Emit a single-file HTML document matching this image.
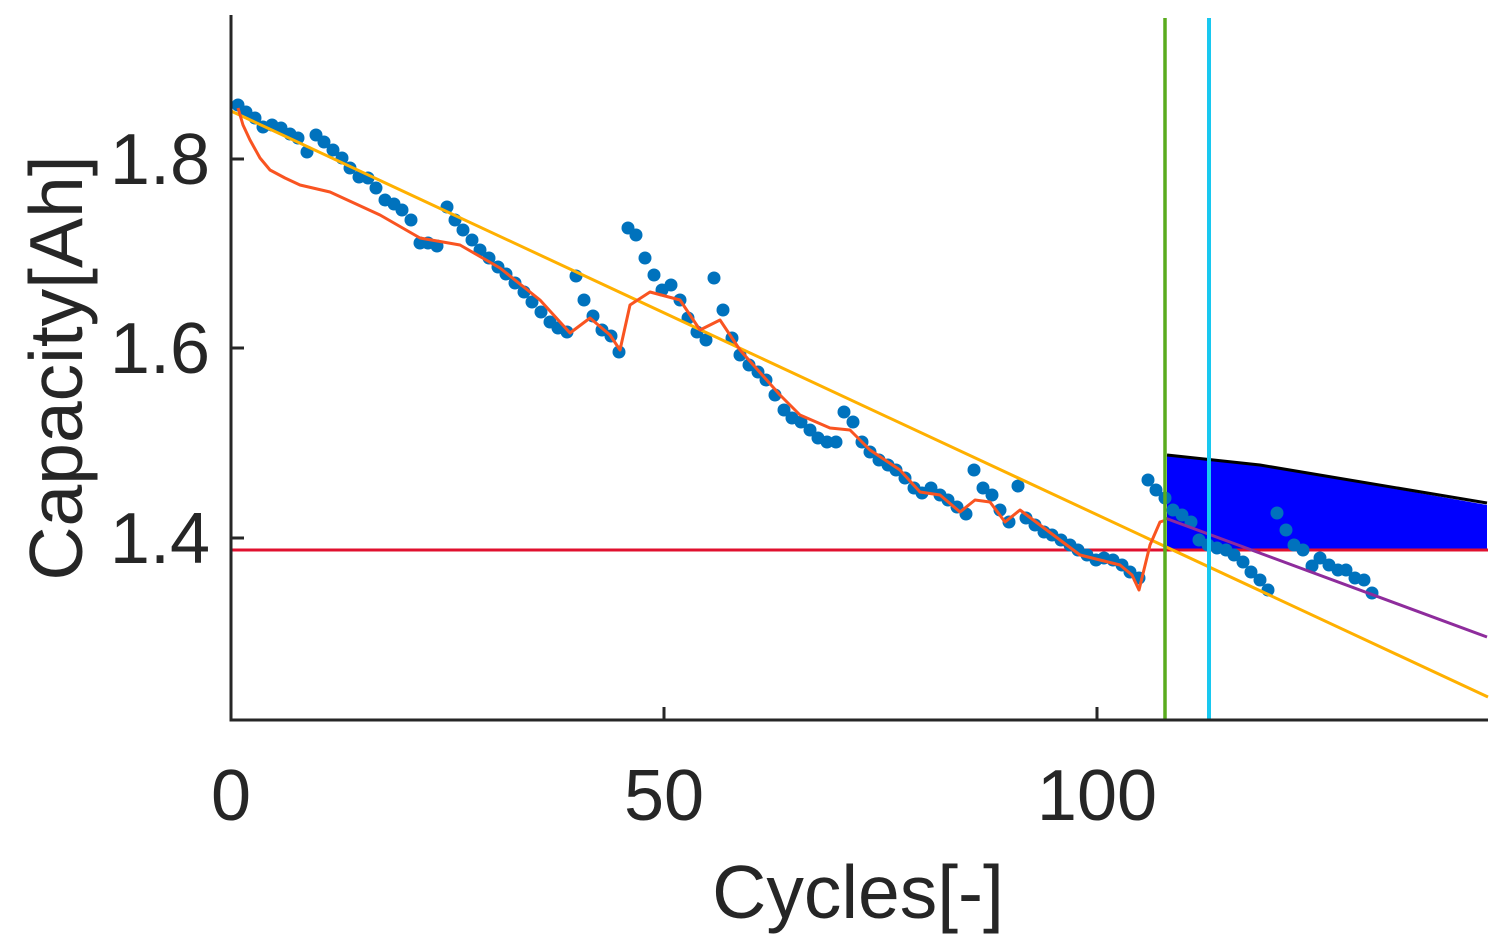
<!DOCTYPE html>
<html><head><style>body{margin:0;background:#fff}svg{display:block}text{font-family:"Liberation Sans",sans-serif;fill:#262626}</style></head>
<body>
<svg width="1505" height="951" viewBox="0 0 1505 951" xmlns="http://www.w3.org/2000/svg">
<polygon points="1167,455 1260,465 1487,505 1487,550 1167,550" fill="#0000ff"/>
<polyline points="1167,455 1260,465 1487,503" fill="none" stroke="#000" stroke-width="3"/>
<line x1="231" y1="550" x2="1488" y2="550" stroke="#e0102f" stroke-width="3"/>
<g fill="#0072bd">
<circle cx="238" cy="105" r="6.5"/><circle cx="246" cy="112" r="6.5"/><circle cx="255" cy="118" r="6.5"/><circle cx="263" cy="127" r="6.5"/><circle cx="272" cy="125" r="6.5"/><circle cx="281" cy="128" r="6.5"/><circle cx="290" cy="134" r="6.5"/><circle cx="298" cy="138" r="6.5"/><circle cx="307" cy="152" r="6.5"/><circle cx="316" cy="135" r="6.5"/><circle cx="324" cy="142" r="6.5"/><circle cx="333" cy="150" r="6.5"/><circle cx="342" cy="158" r="6.5"/><circle cx="350" cy="168" r="6.5"/><circle cx="359" cy="177" r="6.5"/><circle cx="368" cy="178" r="6.5"/><circle cx="376" cy="188" r="6.5"/><circle cx="385" cy="200" r="6.5"/><circle cx="394" cy="204" r="6.5"/><circle cx="402" cy="210" r="6.5"/><circle cx="411" cy="220" r="6.5"/><circle cx="420" cy="243" r="6.5"/><circle cx="428" cy="243" r="6.5"/><circle cx="437" cy="246" r="6.5"/><circle cx="447" cy="207" r="6.5"/><circle cx="455" cy="220" r="6.5"/><circle cx="463" cy="230" r="6.5"/><circle cx="472" cy="240" r="6.5"/><circle cx="480" cy="250" r="6.5"/><circle cx="489" cy="258" r="6.5"/><circle cx="498" cy="267" r="6.5"/><circle cx="506" cy="274" r="6.5"/><circle cx="515" cy="283" r="6.5"/><circle cx="524" cy="292" r="6.5"/><circle cx="532" cy="302" r="6.5"/><circle cx="541" cy="312" r="6.5"/><circle cx="550" cy="322" r="6.5"/><circle cx="558" cy="328" r="6.5"/><circle cx="567" cy="332" r="6.5"/><circle cx="576" cy="276" r="6.5"/><circle cx="584" cy="300" r="6.5"/><circle cx="593" cy="316" r="6.5"/><circle cx="602" cy="330" r="6.5"/><circle cx="611" cy="336" r="6.5"/><circle cx="619" cy="352" r="6.5"/><circle cx="628" cy="228" r="6.5"/><circle cx="636" cy="235" r="6.5"/><circle cx="645" cy="258" r="6.5"/><circle cx="654" cy="275" r="6.5"/><circle cx="662" cy="290" r="6.5"/><circle cx="671" cy="285" r="6.5"/><circle cx="680" cy="300" r="6.5"/><circle cx="688" cy="318" r="6.5"/><circle cx="697" cy="332" r="6.5"/><circle cx="706" cy="340" r="6.5"/><circle cx="714" cy="278" r="6.5"/><circle cx="723" cy="310" r="6.5"/><circle cx="732" cy="338" r="6.5"/><circle cx="740" cy="355" r="6.5"/><circle cx="749" cy="365" r="6.5"/><circle cx="758" cy="372" r="6.5"/><circle cx="766" cy="380" r="6.5"/><circle cx="775" cy="395" r="6.5"/><circle cx="784" cy="410" r="6.5"/><circle cx="792" cy="418" r="6.5"/><circle cx="801" cy="422" r="6.5"/><circle cx="810" cy="430" r="6.5"/><circle cx="818" cy="438" r="6.5"/><circle cx="827" cy="442" r="6.5"/><circle cx="836" cy="442" r="6.5"/><circle cx="844" cy="412" r="6.5"/><circle cx="853" cy="422" r="6.5"/><circle cx="862" cy="442" r="6.5"/><circle cx="870" cy="452" r="6.5"/><circle cx="879" cy="460" r="6.5"/><circle cx="888" cy="465" r="6.5"/><circle cx="896" cy="470" r="6.5"/><circle cx="905" cy="478" r="6.5"/><circle cx="914" cy="488" r="6.5"/><circle cx="922" cy="493" r="6.5"/><circle cx="931" cy="488" r="6.5"/><circle cx="940" cy="495" r="6.5"/><circle cx="948" cy="500" r="6.5"/><circle cx="957" cy="507" r="6.5"/><circle cx="966" cy="514" r="6.5"/><circle cx="974" cy="470" r="6.5"/><circle cx="983" cy="488" r="6.5"/><circle cx="992" cy="495" r="6.5"/><circle cx="1000" cy="510" r="6.5"/><circle cx="1009" cy="522" r="6.5"/><circle cx="1018" cy="486" r="6.5"/><circle cx="1026" cy="518" r="6.5"/><circle cx="1035" cy="525" r="6.5"/><circle cx="1044" cy="532" r="6.5"/><circle cx="1052" cy="535" r="6.5"/><circle cx="1061" cy="540" r="6.5"/><circle cx="1070" cy="545" r="6.5"/><circle cx="1078" cy="550" r="6.5"/><circle cx="1087" cy="555" r="6.5"/><circle cx="1096" cy="560" r="6.5"/><circle cx="1104" cy="558" r="6.5"/><circle cx="1113" cy="560" r="6.5"/><circle cx="1122" cy="565" r="6.5"/><circle cx="1130" cy="572" r="6.5"/><circle cx="1139" cy="578" r="6.5"/><circle cx="1148" cy="480" r="6.5"/><circle cx="1156" cy="490" r="6.5"/><circle cx="1165" cy="498" r="6.5"/><circle cx="1173" cy="510" r="6.5"/><circle cx="1182" cy="515" r="6.5"/><circle cx="1191" cy="522" r="6.5"/><circle cx="1199" cy="540" r="6.5"/><circle cx="1208" cy="545" r="6.5"/><circle cx="1217" cy="548" r="6.5"/><circle cx="1226" cy="550" r="6.5"/><circle cx="1234" cy="555" r="6.5"/><circle cx="1243" cy="562" r="6.5"/><circle cx="1251" cy="572" r="6.5"/><circle cx="1260" cy="580" r="6.5"/><circle cx="1268" cy="590" r="6.5"/><circle cx="1277" cy="513" r="6.5"/><circle cx="1286" cy="530" r="6.5"/><circle cx="1294" cy="545" r="6.5"/><circle cx="1303" cy="550" r="6.5"/><circle cx="1312" cy="566" r="6.5"/><circle cx="1320" cy="558" r="6.5"/><circle cx="1329" cy="565" r="6.5"/><circle cx="1338" cy="570" r="6.5"/><circle cx="1346" cy="570" r="6.5"/><circle cx="1355" cy="578" r="6.5"/><circle cx="1364" cy="580" r="6.5"/><circle cx="1372" cy="593" r="6.5"/>
</g>
<line x1="231" y1="111" x2="1488" y2="697" stroke="#ffb000" stroke-width="3"/>
<polyline points="238,108 243,125 250,140 260,158 270,170 285,178 300,185 330,192 380,215 420,238 460,245 500,268 540,300 570,333 590,318 610,335 620,350 630,305 650,292 680,300 700,330 720,320 740,350 780,395 800,415 830,428 850,430 870,450 900,470 920,492 940,495 960,512 975,500 990,502 1005,522 1020,510 1040,525 1080,555 1120,565 1132,575 1139,590 1150,545 1160,522 1166,520" fill="none" stroke="#f95421" stroke-width="3" stroke-linejoin="round"/>
<line x1="1165" y1="518" x2="1487" y2="637" stroke="#8e2c9c" stroke-width="3"/>
<line x1="1165" y1="18" x2="1165" y2="720" stroke="#5aac1e" stroke-width="3.5"/>
<line x1="1209" y1="18" x2="1209" y2="720" stroke="#18c8f0" stroke-width="4"/>
<g stroke="#262626" stroke-width="3" fill="none">
<polyline points="231,15 231,720 1488,720"/>
<line x1="231" y1="159" x2="244" y2="159"/><line x1="231" y1="348" x2="244" y2="348"/><line x1="231" y1="538" x2="244" y2="538"/>
<line x1="664" y1="720" x2="664" y2="707"/><line x1="1097" y1="720" x2="1097" y2="707"/>
</g>
<g font-size="72">
<text x="210" y="184" text-anchor="end">1.8</text>
<text x="210" y="373" text-anchor="end">1.6</text>
<text x="210" y="563" text-anchor="end">1.4</text>
<text x="231" y="820" text-anchor="middle">0</text>
<text x="664" y="820" text-anchor="middle">50</text>
<text x="1097" y="820" text-anchor="middle">100</text>
</g>
<g font-size="75">
<text x="858" y="918" text-anchor="middle">Cycles[-]</text>
<text transform="translate(82,368) rotate(-90)" text-anchor="middle">Capacity[Ah]</text>
</g>
</svg>
</body></html>
